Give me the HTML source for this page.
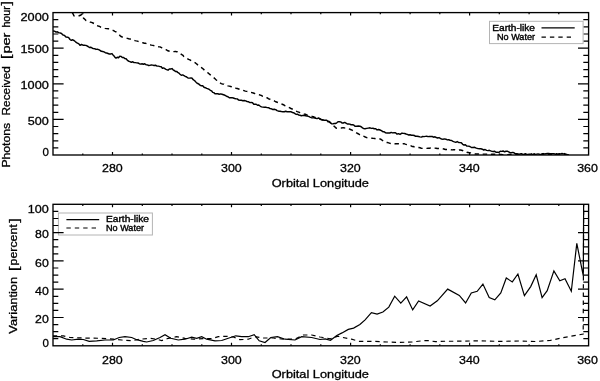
<!DOCTYPE html>
<html><head><meta charset="utf-8"><title>Orbital Longitude plots</title>
<style>html,body{margin:0;padding:0;background:#fff}svg{display:block}</style></head>
<body>
<svg width="600" height="381" viewBox="0 0 600 381">
<defs><clipPath id="c1"><rect x="53.0" y="12.6" width="535.6" height="142.4"/></clipPath><clipPath id="c2"><rect x="53.0" y="204.3" width="535.6" height="141.5"/></clipPath></defs>
<rect width="600" height="381" fill="#fff"/>
<g clip-path="url(#c1)" fill="none" stroke="#000" stroke-width="1.45" stroke-linejoin="round">
<path d="M53.0,30.9 L54.5,31.1 L56.0,32.1 L57.3,31.8 L58.7,32.7 L60.0,32.9 L61.5,33.5 L63.0,35.0 L64.5,35.4 L66.0,37.0 L68.0,37.2 L69.0,38.0 L70.0,39.5 L71.3,40.3 L72.7,39.8 L74.0,40.5 L75.5,41.8 L77.0,42.8 L78.0,43.4 L79.0,44.0 L80.0,45.3 L81.5,44.5 L83.0,45.2 L84.3,45.2 L85.6,45.4 L86.9,45.8 L88.1,46.5 L89.4,47.5 L90.7,47.2 L92.0,48.0 L93.3,48.6 L94.7,48.7 L96.0,49.4 L97.3,49.2 L98.7,49.6 L100.0,50.4 L101.3,51.3 L102.7,51.5 L104.0,51.9 L105.3,52.7 L106.7,53.0 L108.0,53.5 L109.3,54.0 L110.7,54.0 L112.0,53.6 L113.0,54.9 L114.0,55.9 L115.0,57.4 L116.0,58.1 L117.2,57.3 L118.5,57.8 L119.8,56.3 L121.0,56.4 L122.3,57.5 L123.6,57.5 L124.9,58.6 L126.1,58.8 L127.4,60.3 L128.7,61.2 L130.0,61.6 L131.3,62.3 L132.7,61.8 L134.0,62.5 L135.3,62.6 L136.7,62.9 L138.0,63.0 L139.3,63.7 L140.7,64.1 L142.0,63.8 L143.3,64.3 L144.7,63.8 L146.0,64.7 L147.3,64.9 L148.7,65.5 L150.0,65.4 L151.3,64.9 L152.7,65.1 L154.0,65.5 L155.5,65.2 L157.0,66.1 L158.5,66.1 L160.0,66.6 L161.2,66.8 L162.4,68.2 L163.6,67.9 L164.8,68.6 L166.0,69.3 L168.0,70.2 L169.3,69.0 L170.7,69.0 L172.0,68.6 L173.1,69.8 L174.3,70.5 L175.4,71.4 L176.6,71.4 L177.7,72.4 L178.9,73.1 L180.0,74.2 L181.3,75.2 L182.7,74.9 L184.0,75.6 L185.3,76.3 L186.7,77.0 L188.0,78.0 L189.5,78.1 L191.0,77.9 L192.1,78.3 L193.2,79.7 L194.4,80.5 L195.5,81.6 L196.6,82.9 L197.8,83.5 L198.9,84.1 L200.0,85.1 L201.3,85.8 L202.7,85.7 L204.0,87.3 L205.3,87.7 L206.7,88.4 L208.0,88.8 L209.2,89.4 L210.3,90.3 L211.5,90.8 L212.7,92.4 L213.8,92.6 L215.0,93.7 L216.4,93.8 L217.8,93.8 L219.2,94.2 L220.6,93.9 L222.0,94.3 L223.5,94.8 L225.0,95.3 L226.5,96.2 L228.0,96.7 L229.3,97.8 L230.7,97.8 L232.0,97.6 L233.3,98.0 L234.7,98.5 L236.0,98.8 L237.3,98.9 L238.7,100.1 L240.0,100.3 L241.4,100.3 L242.9,100.7 L244.3,100.5 L245.7,100.9 L247.1,101.5 L248.6,101.8 L250.0,102.6 L251.2,102.4 L252.5,102.7 L253.8,104.3 L255.0,104.2 L256.2,104.2 L257.5,105.2 L258.8,105.0 L260.0,106.0 L261.4,106.9 L262.9,107.1 L264.3,107.3 L265.7,107.1 L267.1,107.6 L268.6,107.7 L270.0,108.6 L271.4,108.8 L272.9,109.5 L274.3,109.3 L275.7,109.6 L277.1,110.6 L278.6,111.2 L280.0,111.2 L281.4,111.5 L282.9,111.7 L284.3,111.7 L285.7,111.2 L287.1,111.7 L288.6,111.7 L290.0,111.7 L291.2,111.8 L292.5,112.5 L293.8,112.8 L295.0,113.7 L296.2,114.4 L297.5,114.2 L298.8,115.1 L300.0,115.3 L301.4,115.8 L302.9,115.4 L304.3,115.5 L305.7,115.8 L307.1,116.1 L308.6,116.4 L310.0,117.1 L311.4,117.7 L312.9,117.9 L314.3,117.7 L315.7,118.2 L317.1,118.6 L318.6,118.0 L320.0,118.8 L321.3,119.6 L322.7,119.8 L324.0,120.2 L325.3,120.2 L326.7,120.2 L328.0,121.2 L329.2,121.5 L330.5,122.9 L331.8,123.8 L333.0,123.9 L334.2,123.4 L335.5,123.5 L336.8,122.8 L338.0,121.8 L339.3,121.7 L340.7,121.9 L342.0,123.0 L343.3,123.0 L344.7,122.4 L346.0,123.2 L347.3,124.0 L348.6,124.0 L349.9,124.1 L351.1,124.8 L352.4,124.7 L353.7,125.0 L355.0,126.3 L356.7,126.2 L358.3,126.0 L360.0,126.3 L361.2,126.7 L362.5,127.9 L363.8,128.6 L365.0,128.8 L366.7,128.4 L368.3,128.1 L370.0,127.8 L371.4,128.4 L372.9,128.3 L374.3,128.8 L375.7,128.7 L377.1,129.9 L378.6,129.5 L380.0,130.0 L381.4,130.7 L382.8,131.7 L384.2,131.7 L385.6,132.9 L387.0,133.0 L388.4,133.0 L389.8,133.0 L391.2,132.4 L392.6,132.9 L394.0,132.8 L395.5,132.8 L397.0,134.1 L398.5,133.7 L400.0,134.4 L402.0,133.1 L403.3,133.4 L404.7,133.5 L406.0,134.0 L407.3,134.4 L408.7,135.0 L410.0,134.8 L411.4,135.3 L412.9,135.2 L414.3,135.5 L415.7,136.3 L417.1,136.2 L418.6,136.5 L420.0,136.9 L421.3,137.1 L422.7,136.5 L424.0,136.6 L425.4,136.4 L426.7,136.3 L428.1,136.6 L429.5,136.4 L430.9,136.5 L432.2,136.5 L433.6,137.2 L435.0,136.8 L436.3,137.5 L437.7,138.0 L439.0,137.6 L440.3,138.3 L441.7,139.1 L443.0,139.2 L444.4,138.9 L445.9,139.2 L447.3,139.9 L448.7,139.8 L450.1,140.3 L451.6,140.5 L453.0,141.4 L454.4,141.9 L455.8,142.3 L457.2,141.6 L458.6,142.5 L460.0,142.6 L461.3,142.7 L462.7,144.3 L464.0,145.0 L465.4,144.8 L466.7,146.1 L468.3,146.1 L469.9,146.5 L471.4,147.5 L473.0,147.5 L474.7,147.3 L476.3,148.1 L478.0,148.6 L479.4,148.7 L480.9,148.8 L482.3,149.2 L483.7,150.0 L485.1,149.5 L486.6,150.4 L488.0,150.6 L489.3,150.3 L490.7,150.9 L492.0,151.4 L493.3,151.5 L494.7,151.2 L496.0,152.3 L497.4,152.3 L498.9,152.4 L500.3,151.3 L501.7,151.4 L503.1,151.0 L504.6,151.8 L506.0,151.3 L507.3,151.2 L508.7,151.8 L510.0,152.7 L511.3,152.8 L512.7,152.4 L514.0,152.8 L515.5,153.8 L517.0,153.7 L518.5,154.1 L520.0,154.0 L521.4,153.7 L522.9,154.5 L524.3,154.2 L525.7,153.7 L527.1,154.8 L528.6,154.4 L530.0,154.5 L531.3,153.8 L532.7,154.7 L534.0,153.7 L535.3,154.6 L536.7,154.1 L538.0,153.9 L539.3,154.2 L540.7,154.6 L542.0,153.8 L543.3,153.6 L544.7,154.0 L546.0,153.7 L547.3,153.5 L548.7,153.5 L550.0,153.6 L551.3,153.6 L552.7,153.7 L554.0,153.7 L555.3,154.3 L556.7,153.8 L558.0,154.1 L559.3,153.7 L560.7,153.9 L562.0,153.5 L563.3,153.9 L564.7,153.6 L566.0,154.3 L567.5,154.7 L569.0,155.0"/>
<path d="M53.0,1.9 L54.2,2.7 L55.4,3.5 L56.6,3.8 L57.8,4.8 L59.0,5.3 L60.2,6.0 L61.4,6.8 L62.6,7.3 L63.9,8.0 L65.1,8.7 L66.3,9.5 L67.5,9.9 L68.7,10.7 L69.9,11.4 L71.1,12.0 L72.3,12.6 L73.2,14.2 L74.0,15.9 L75.8,16.0 L77.5,16.1 L79.2,15.7 L81.0,15.0 L82.3,13.9 L82.7,15.2 L83.1,16.8 L83.5,18.1 L84.8,19.3 L86.0,20.5 L87.3,20.9 L88.7,21.4 L90.0,22.0 L91.5,22.4 L93.0,23.0 L94.3,23.7 L95.7,24.9 L97.0,25.6 L98.2,26.0 L99.5,26.4 L100.8,27.2 L102.0,27.5 L103.5,27.9 L105.0,28.4 L106.7,28.6 L108.3,28.8 L110.0,29.0 L111.2,29.5 L112.4,30.2 L113.6,30.6 L114.8,31.3 L116.0,31.9 L117.0,32.9 L118.0,33.7 L119.0,34.6 L120.0,35.6 L121.0,36.5 L122.3,37.0 L123.6,37.3 L124.9,37.7 L126.1,38.0 L127.4,38.4 L128.7,38.8 L130.0,39.0 L131.2,39.3 L132.5,39.9 L133.8,40.0 L135.0,40.6 L136.2,40.9 L137.5,41.1 L138.8,41.8 L140.0,42.1 L141.4,42.4 L142.9,42.8 L144.3,43.2 L145.7,43.3 L147.1,43.9 L148.6,44.2 L150.0,44.7 L151.4,45.1 L152.9,45.4 L154.3,45.7 L155.7,46.1 L157.1,46.4 L158.6,46.7 L160.0,46.9 L162.0,47.9 L163.3,48.5 L164.7,49.1 L166.0,49.6 L167.3,50.5 L168.7,51.0 L170.0,51.6 L171.3,51.7 L172.7,51.7 L174.0,51.6 L175.3,51.4 L176.7,51.7 L178.0,51.6 L179.1,52.5 L180.3,53.4 L181.4,54.4 L182.6,55.1 L183.7,56.3 L184.9,57.0 L186.0,57.9 L187.3,58.6 L188.6,59.4 L189.9,59.9 L191.1,60.7 L192.4,61.5 L193.7,61.9 L195.0,62.6 L196.1,63.5 L197.2,64.4 L198.2,65.3 L199.3,66.1 L200.4,67.0 L201.5,67.6 L202.6,68.5 L203.7,69.4 L204.8,70.5 L205.8,71.2 L206.9,72.2 L208.0,72.9 L209.0,73.7 L210.0,74.6 L211.0,75.6 L212.0,76.4 L213.0,77.2 L214.0,77.9 L215.0,78.8 L216.0,79.7 L217.0,80.5 L218.0,81.2 L219.0,82.3 L220.0,82.9 L221.3,83.6 L222.7,84.1 L224.0,84.1 L225.3,84.8 L226.7,85.4 L228.0,85.9 L229.3,86.1 L230.7,86.5 L232.0,86.9 L233.3,87.6 L234.7,87.7 L236.0,88.2 L237.3,88.5 L238.7,89.0 L240.0,89.6 L241.3,89.7 L242.7,90.3 L244.0,90.6 L245.3,91.1 L246.7,91.4 L248.0,91.6 L249.3,92.2 L250.7,92.4 L252.0,92.6 L253.3,93.0 L254.7,93.5 L256.0,93.9 L257.3,94.2 L258.7,94.5 L260.0,95.0 L261.2,95.4 L262.4,96.1 L263.6,96.3 L264.8,97.1 L266.0,97.6 L267.2,97.8 L268.4,98.7 L269.6,99.1 L270.8,99.7 L272.0,100.0 L273.3,100.5 L274.5,101.0 L275.8,101.8 L277.1,102.2 L278.4,102.7 L279.6,103.2 L280.9,103.7 L282.2,104.2 L283.5,104.7 L284.7,105.6 L286.0,106.0 L287.2,106.8 L288.5,107.1 L289.8,107.8 L291.0,108.5 L292.2,109.0 L293.5,109.7 L294.8,110.6 L296.0,111.1 L297.3,111.6 L298.7,112.1 L300.0,112.7 L301.3,113.2 L302.7,113.5 L304.0,114.0 L305.3,114.2 L306.7,114.9 L308.0,115.2 L309.3,115.8 L310.7,116.1 L312.0,116.4 L313.3,116.7 L314.7,117.5 L316.0,117.6 L317.3,118.2 L318.7,118.5 L320.0,119.0 L321.2,119.5 L322.5,120.0 L323.8,120.2 L325.0,120.8 L326.2,121.0 L327.5,121.6 L328.8,121.9 L330.0,122.3 L331.0,123.2 L332.0,124.1 L333.0,125.4 L334.0,126.1 L335.0,127.0 L336.0,128.1 L337.4,128.2 L338.9,128.0 L340.3,127.9 L341.7,127.9 L343.1,127.8 L344.6,127.9 L346.0,127.9 L347.5,128.4 L349.0,128.9 L350.5,129.5 L352.0,130.1 L353.1,130.8 L354.3,131.4 L355.4,132.1 L356.6,132.9 L357.7,133.5 L358.9,134.2 L360.0,134.9 L361.3,135.4 L362.7,136.2 L364.0,136.4 L365.3,137.0 L366.7,137.6 L368.0,138.1 L369.3,138.0 L370.7,138.1 L372.0,138.2 L373.3,138.4 L374.7,138.5 L376.0,138.8 L377.3,138.9 L378.7,139.0 L380.0,138.9 L381.2,139.5 L382.4,140.4 L383.6,141.2 L384.8,141.7 L386.0,142.4 L387.3,142.5 L388.7,142.9 L390.0,143.4 L391.3,143.6 L392.7,143.9 L394.0,144.1 L395.4,143.8 L396.9,143.7 L398.3,143.7 L399.7,143.8 L401.1,143.8 L402.6,143.8 L404.0,143.6 L405.3,144.1 L406.7,144.6 L408.0,145.0 L409.3,145.5 L410.7,145.7 L412.0,146.5 L413.3,146.5 L414.7,147.1 L416.0,147.2 L417.3,147.3 L418.7,147.5 L420.0,147.8 L421.3,148.2 L422.7,148.4 L424.0,148.5 L425.3,148.3 L426.7,148.4 L428.0,148.3 L429.3,148.2 L430.7,148.0 L432.0,148.0 L433.3,147.9 L434.7,148.1 L436.0,148.2 L437.3,148.5 L438.7,148.4 L440.0,148.5 L441.3,148.6 L442.7,148.7 L444.0,149.0 L445.4,149.5 L446.7,149.5 L448.1,149.5 L449.4,149.5 L450.8,149.7 L452.2,149.9 L453.5,149.8 L454.9,149.8 L456.2,150.1 L457.6,150.3 L459.0,150.0 L460.3,150.0 L461.7,150.3 L463.0,150.7 L464.2,151.3 L465.5,151.5 L466.7,152.2 L468.0,152.5 L469.4,152.8 L470.9,152.9 L472.4,153.4 L473.8,153.4 L475.2,153.9 L476.7,153.9 L478.1,153.9 L479.4,154.2 L480.8,154.0 L482.2,154.3 L483.6,154.1 L484.9,154.1 L486.3,154.1 L487.7,154.2 L489.0,154.3 L490.4,154.5 L491.8,154.2 L493.1,154.3 L494.5,154.3 L495.9,154.6 L497.3,154.3 L498.6,154.3 L500.0,154.4 L501.3,154.5 L502.6,154.7 L503.9,154.7 L505.2,154.6 L506.5,154.7 L507.8,154.7 L509.1,154.5 L510.4,154.4 L511.7,154.7 L513.0,154.7 L514.3,154.4 L515.6,154.6 L516.9,154.5 L518.2,154.5 L519.5,154.5 L520.8,154.5 L522.1,154.4 L523.4,154.5 L524.7,154.5 L526.0,154.8 L527.3,154.5 L528.6,154.8 L529.9,154.5 L531.2,154.6 L532.5,154.8 L533.8,154.8 L535.2,154.6 L536.5,154.5 L537.8,154.7 L539.1,154.6 L540.4,154.8 L541.7,154.6 L543.0,154.6 L544.3,154.9 L545.6,154.5 L546.9,154.7 L548.2,154.8 L549.5,154.8 L550.8,154.5 L552.1,154.5 L553.4,154.6 L554.7,154.9 L556.0,154.6 L557.3,154.8 L558.6,154.9 L559.9,154.7 L561.2,154.7 L562.5,155.0 L563.8,154.8 L565.1,154.7 L566.4,154.9 L567.7,154.7 L569.0,154.8" stroke-dasharray="4.4 3.8" stroke-dashoffset="2.44"/>
</g>
<path d="M82.8,155.0v-1.6M82.8,12.6v1.6M112.5,155.0v-3.0M112.5,12.6v3.0M142.3,155.0v-1.6M142.3,12.6v1.6M172.0,155.0v-1.6M172.0,12.6v1.6M201.8,155.0v-1.6M201.8,12.6v1.6M231.5,155.0v-3.0M231.5,12.6v3.0M261.3,155.0v-1.6M261.3,12.6v1.6M291.0,155.0v-1.6M291.0,12.6v1.6M320.8,155.0v-1.6M320.8,12.6v1.6M350.6,155.0v-3.0M350.6,12.6v3.0M380.3,155.0v-1.6M380.3,12.6v1.6M410.1,155.0v-1.6M410.1,12.6v1.6M439.8,155.0v-1.6M439.8,12.6v1.6M469.6,155.0v-3.0M469.6,12.6v3.0M499.3,155.0v-1.6M499.3,12.6v1.6M529.1,155.0v-1.6M529.1,12.6v1.6M558.8,155.0v-1.6M558.8,12.6v1.6M53.0,147.9h5.3M588.6,147.9h-5.3M53.0,140.8h5.3M588.6,140.8h-5.3M53.0,133.6h5.3M588.6,133.6h-5.3M53.0,126.5h5.3M588.6,126.5h-5.3M53.0,119.4h10.6M588.6,119.4h-10.6M53.0,112.3h5.3M588.6,112.3h-5.3M53.0,105.2h5.3M588.6,105.2h-5.3M53.0,98.0h5.3M588.6,98.0h-5.3M53.0,90.9h5.3M588.6,90.9h-5.3M53.0,83.8h10.6M588.6,83.8h-10.6M53.0,76.7h5.3M588.6,76.7h-5.3M53.0,69.6h5.3M588.6,69.6h-5.3M53.0,62.4h5.3M588.6,62.4h-5.3M53.0,55.3h5.3M588.6,55.3h-5.3M53.0,48.2h10.6M588.6,48.2h-10.6M53.0,41.1h5.3M588.6,41.1h-5.3M53.0,34.0h5.3M588.6,34.0h-5.3M53.0,26.8h5.3M588.6,26.8h-5.3M53.0,19.7h5.3M588.6,19.7h-5.3" stroke="#000" stroke-width="1.2" fill="none"/>
<rect x="53.0" y="12.6" width="535.6" height="142.4" fill="none" stroke="#000" stroke-width="1.35"/>
<rect x="58.4" y="213" width="94" height="22" fill="#fff" stroke="#b4b4b4" stroke-width="1"/>
<g clip-path="url(#c2)" fill="none" stroke="#000" stroke-width="1.2" stroke-linejoin="miter">
<path d="M52.8,335.8 L63.3,335.8 L70.0,337.5 L83.3,338.0 L100.0,338.3 L113.3,339.2 L121.7,340.0 L131.7,340.8 L140.0,339.2 L150.0,338.3 L156.7,339.2 L161.7,340.5 L168.3,338.3 L176.7,336.7 L185.0,338.3 L193.3,339.2 L203.3,338.7 L211.7,338.7 L218.3,336.7 L226.7,336.3 L233.3,337.0 L240.0,339.7 L248.3,339.2 L255.0,336.7 L263.3,338.0 L273.3,338.0 L283.3,339.2 L295.0,339.2 L303.3,335.0 L311.7,335.0 L320.0,337.0 L323.0,337.5 L330.5,338.8 L337.8,336.1 L343.0,337.5 L351.5,339.2 L358.8,341.3 L372.4,341.3 L387.1,342.0 L399.7,342.4 L412.3,342.0 L422.8,340.7 L429.0,340.7 L435.4,341.7 L440.0,341.3 L460.0,341.2 L480.0,340.8 L500.0,341.4 L520.0,341.0 L535.0,341.5 L550.0,340.5 L562.0,337.8 L577.0,335.2 L583.2,334.0 L583.7,190.0" stroke-dasharray="4.4 3.8"/>
<path d="M52.8,336.7 L60.0,336.7 L66.7,339.2 L71.7,340.0 L78.3,339.2 L83.3,339.5 L89.2,341.3 L96.7,340.8 L105.0,340.0 L113.3,340.0 L119.2,337.5 L125.0,336.7 L131.7,337.5 L136.7,339.7 L143.3,341.3 L146.7,342.0 L153.3,340.5 L160.0,337.5 L165.0,334.7 L170.8,338.3 L178.3,340.0 L185.0,339.2 L191.7,337.2 L196.7,338.3 L201.7,336.7 L206.7,339.2 L215.0,340.8 L221.7,340.5 L228.3,338.3 L235.8,335.8 L241.7,336.7 L248.3,336.7 L254.2,334.7 L259.2,340.8 L265.0,342.5 L270.8,337.5 L277.5,336.7 L285.0,339.2 L295.0,340.0 L301.7,336.7 L311.7,337.5 L320.0,339.5 L325.2,338.8 L330.5,340.3 L336.8,335.5 L342.0,332.9 L348.3,329.4 L353.6,328.1 L359.9,324.5 L365.1,319.9 L371.4,312.6 L377.1,314.1 L382.9,312.0 L388.8,307.1 L394.7,296.2 L400.8,303.1 L406.6,296.9 L412.7,309.9 L418.6,301.0 L430.1,306.1 L437.3,300.8 L447.7,289.1 L459.3,295.4 L465.6,303.0 L471.3,292.9 L477.2,291.3 L482.9,284.1 L489.2,297.6 L494.8,299.8 L500.8,292.9 L506.3,278.0 L512.3,281.9 L517.9,274.0 L524.4,295.7 L530.7,286.6 L536.2,274.8 L542.1,297.6 L547.2,290.6 L553.9,270.9 L559.8,280.7 L565.0,278.7 L571.3,291.3 L576.8,243.4 L583.3,276.0 L583.7,190.0"/>
</g>
<path d="M82.8,345.8v-1.6M82.8,204.3v1.6M112.5,345.8v-3.0M112.5,204.3v3.0M142.3,345.8v-1.6M142.3,204.3v1.6M172.0,345.8v-1.6M172.0,204.3v1.6M201.8,345.8v-1.6M201.8,204.3v1.6M231.5,345.8v-3.0M231.5,204.3v3.0M261.3,345.8v-1.6M261.3,204.3v1.6M291.0,345.8v-1.6M291.0,204.3v1.6M320.8,345.8v-1.6M320.8,204.3v1.6M350.6,345.8v-3.0M350.6,204.3v3.0M380.3,345.8v-1.6M380.3,204.3v1.6M410.1,345.8v-1.6M410.1,204.3v1.6M439.8,345.8v-1.6M439.8,204.3v1.6M469.6,345.8v-3.0M469.6,204.3v3.0M499.3,345.8v-1.6M499.3,204.3v1.6M529.1,345.8v-1.6M529.1,204.3v1.6M558.8,345.8v-1.6M558.8,204.3v1.6M53.0,338.7h5.3M588.6,338.7h-5.3M53.0,331.7h5.3M588.6,331.7h-5.3M53.0,324.6h5.3M588.6,324.6h-5.3M53.0,317.5h10.6M588.6,317.5h-10.6M53.0,310.4h5.3M588.6,310.4h-5.3M53.0,303.4h5.3M588.6,303.4h-5.3M53.0,296.3h5.3M588.6,296.3h-5.3M53.0,289.2h10.6M588.6,289.2h-10.6M53.0,282.1h5.3M588.6,282.1h-5.3M53.0,275.1h5.3M588.6,275.1h-5.3M53.0,268.0h5.3M588.6,268.0h-5.3M53.0,260.9h10.6M588.6,260.9h-10.6M53.0,253.8h5.3M588.6,253.8h-5.3M53.0,246.8h5.3M588.6,246.8h-5.3M53.0,239.7h5.3M588.6,239.7h-5.3M53.0,232.6h10.6M588.6,232.6h-10.6M53.0,225.5h5.3M588.6,225.5h-5.3M53.0,218.5h5.3M588.6,218.5h-5.3M53.0,211.4h5.3M588.6,211.4h-5.3" stroke="#000" stroke-width="1.2" fill="none"/>
<rect x="53.0" y="204.3" width="535.6" height="141.5" fill="none" stroke="#000" stroke-width="1.35"/>
<rect x="489.5" y="21.3" width="93.6" height="22.3" fill="#fff" stroke="#b4b4b4" stroke-width="1"/>
<path d="M541.5,27.8H574.7" stroke="#000" stroke-width="1.25"/>
<path d="M541.5,37H571" stroke="#000" stroke-width="1.25" stroke-dasharray="4.4 4"/>
<path d="M66.4,219.6H99.2" stroke="#000" stroke-width="1.2"/>
<path d="M66.4,228H96.4" stroke="#000" stroke-width="1.2" stroke-dasharray="4.4 4"/>
<g font-family="'Liberation Sans', sans-serif" fill="#000" stroke="#000" stroke-width="0.3">
<text x="492.3" y="30.6" font-size="8.3" textLength="42.7" lengthAdjust="spacingAndGlyphs" stroke="#000" stroke-width="0.35">Earth-like</text>
<text x="497.0" y="39.7" font-size="8.3" textLength="38.0" lengthAdjust="spacingAndGlyphs" stroke="#000" stroke-width="0.35">No Water</text>
<text x="106.0" y="222.4" font-size="8.3" textLength="43.0" lengthAdjust="spacingAndGlyphs" stroke="#000" stroke-width="0.35">Earth-like</text>
<text x="106.0" y="231.0" font-size="8.3" textLength="38.0" lengthAdjust="spacingAndGlyphs" stroke="#000" stroke-width="0.35">No Water</text>
<text x="20.5" y="21.2" font-size="11.5" textLength="28.3" lengthAdjust="spacingAndGlyphs">2000</text>
<text x="20.5" y="53.0" font-size="11.5" textLength="28.3" lengthAdjust="spacingAndGlyphs">1500</text>
<text x="20.5" y="89.0" font-size="11.5" textLength="28.3" lengthAdjust="spacingAndGlyphs">1000</text>
<text x="27.8" y="124.8" font-size="11.5" textLength="21.0" lengthAdjust="spacingAndGlyphs">500</text>
<text x="42.4" y="155.6" font-size="11.5" textLength="6.4" lengthAdjust="spacingAndGlyphs">0</text>
<text x="27.8" y="212.5" font-size="11.5" textLength="21.0" lengthAdjust="spacingAndGlyphs">100</text>
<text x="35.1" y="238.0" font-size="11.5" textLength="13.7" lengthAdjust="spacingAndGlyphs">80</text>
<text x="35.1" y="266.6" font-size="11.5" textLength="13.7" lengthAdjust="spacingAndGlyphs">60</text>
<text x="35.1" y="295.0" font-size="11.5" textLength="13.7" lengthAdjust="spacingAndGlyphs">40</text>
<text x="35.1" y="323.4" font-size="11.5" textLength="13.7" lengthAdjust="spacingAndGlyphs">20</text>
<text x="42.4" y="347.2" font-size="11.5" textLength="6.4" lengthAdjust="spacingAndGlyphs">0</text>
<text x="102.0" y="172.4" font-size="11.5" textLength="20.7" lengthAdjust="spacingAndGlyphs">280</text>
<text x="102.0" y="364.0" font-size="11.5" textLength="20.7" lengthAdjust="spacingAndGlyphs">280</text>
<text x="221.0" y="172.4" font-size="11.5" textLength="20.7" lengthAdjust="spacingAndGlyphs">300</text>
<text x="221.0" y="364.0" font-size="11.5" textLength="20.7" lengthAdjust="spacingAndGlyphs">300</text>
<text x="340.0" y="172.4" font-size="11.5" textLength="20.7" lengthAdjust="spacingAndGlyphs">320</text>
<text x="340.0" y="364.0" font-size="11.5" textLength="20.7" lengthAdjust="spacingAndGlyphs">320</text>
<text x="459.0" y="172.4" font-size="11.5" textLength="20.7" lengthAdjust="spacingAndGlyphs">340</text>
<text x="459.0" y="364.0" font-size="11.5" textLength="20.7" lengthAdjust="spacingAndGlyphs">340</text>
<text x="577.2" y="172.4" font-size="11.5" textLength="20.7" lengthAdjust="spacingAndGlyphs">360</text>
<text x="577.2" y="364.0" font-size="11.5" textLength="20.7" lengthAdjust="spacingAndGlyphs">360</text>
<text x="271.7" y="186.5" font-size="11.5" textLength="97.3" lengthAdjust="spacingAndGlyphs">Orbital Longitude</text>
<text x="271.7" y="377.8" font-size="11.5" textLength="97.3" lengthAdjust="spacingAndGlyphs">Orbital Longitude</text>
<text transform="translate(9.8,167.6) rotate(-90)" font-size="11.5"><tspan x="0.0" y="0" textLength="44.7" lengthAdjust="spacingAndGlyphs">Photons</tspan> <tspan x="52.2" y="0" textLength="49.2" lengthAdjust="spacingAndGlyphs">Received</tspan> <tspan x="108.5" y="0.6" font-size="12.6" textLength="4.4" lengthAdjust="spacingAndGlyphs">[</tspan><tspan x="114.0" y="0" textLength="21.0" lengthAdjust="spacingAndGlyphs">per</tspan> <tspan x="140.0" y="0" textLength="21.4" lengthAdjust="spacingAndGlyphs">hour</tspan><tspan x="162.2" y="0.6" font-size="12.6" textLength="4.4" lengthAdjust="spacingAndGlyphs">]</tspan></text>
<text transform="translate(17.2,333.7) rotate(-90)" font-size="11.5"><tspan x="0.0" y="0" textLength="56.8" lengthAdjust="spacingAndGlyphs">Variantion</tspan> <tspan x="62.6" y="0.6" font-size="12.6" textLength="4.4" lengthAdjust="spacingAndGlyphs">[</tspan><tspan x="68.3" y="0" textLength="41.2" lengthAdjust="spacingAndGlyphs">percent</tspan><tspan x="111.0" y="0.6" font-size="12.6" textLength="4.4" lengthAdjust="spacingAndGlyphs">]</tspan></text>
</g>
</svg>
</body></html>
